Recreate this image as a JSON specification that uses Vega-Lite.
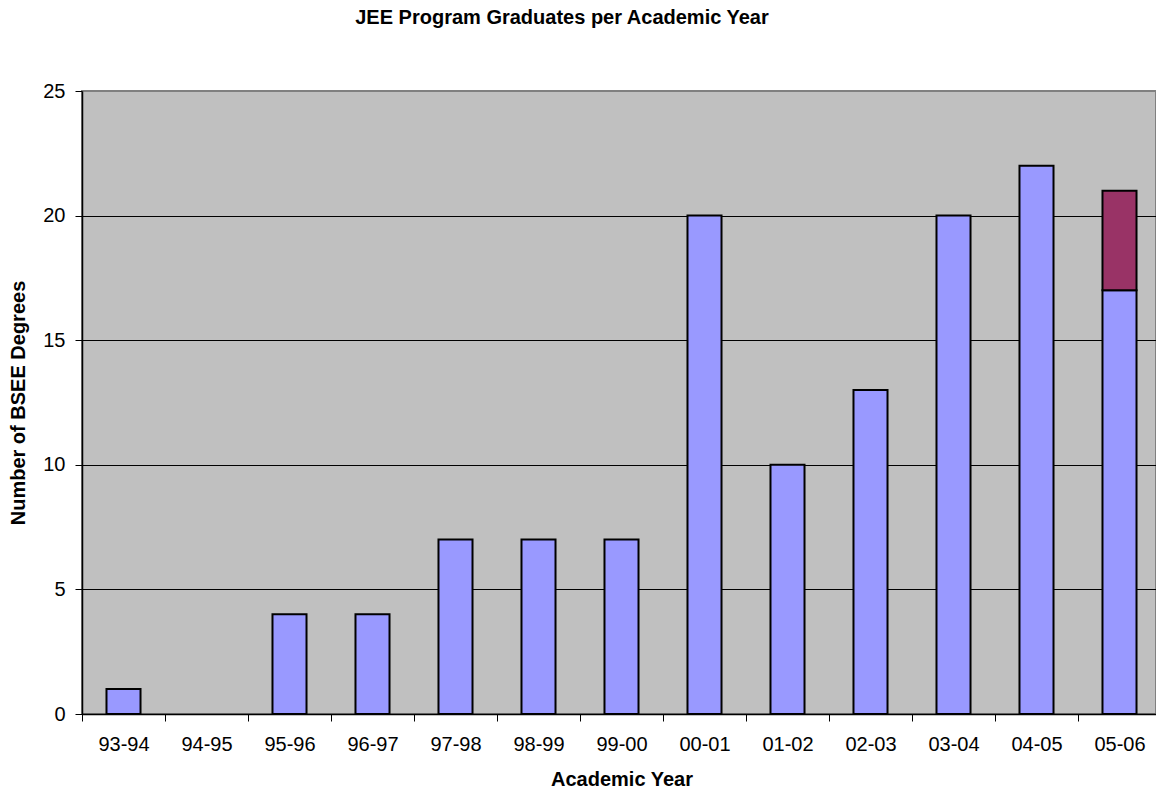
{
  "$schema": "https://vega.github.io/schema/vega-lite/v6.json",
  "autosize": "none",
  "padding": {"left": 82, "top": 91, "right": 0, "bottom": 81},
  "width": 1074,
  "height": 623,
  "background": "white",
  "config": {
    "font": "Liberation Sans",
    "view": {"fill": "#C0C0C0", "stroke": "#808080", "strokeWidth": 2},
    "axis": {"labelFont": "Liberation Sans", "titleFont": "Liberation Sans"}
  },
  "title": {
    "text": "JEE Program Graduates per Academic Year",
    "font": "Liberation Sans",
    "fontSize": 20,
    "fontWeight": "bold",
    "color": "black",
    "anchor": "middle",
    "frame": "group",
    "baseline": "alphabetic",
    "offset": 37,
    "dx": -57
  },
  "data": {
    "values": [
      {"year": "93-94", "series": "A", "degrees": 1},
      {"year": "94-95", "series": "A", "degrees": 0},
      {"year": "95-96", "series": "A", "degrees": 4},
      {"year": "96-97", "series": "A", "degrees": 4},
      {"year": "97-98", "series": "A", "degrees": 7},
      {"year": "98-99", "series": "A", "degrees": 7},
      {"year": "99-00", "series": "A", "degrees": 7},
      {"year": "00-01", "series": "A", "degrees": 20},
      {"year": "01-02", "series": "A", "degrees": 10},
      {"year": "02-03", "series": "A", "degrees": 13},
      {"year": "03-04", "series": "A", "degrees": 20},
      {"year": "04-05", "series": "A", "degrees": 22},
      {"year": "05-06", "series": "A", "degrees": 17},
      {"year": "05-06", "series": "B", "degrees": 4}
    ]
  },
  "mark": {"type": "bar", "stroke": "black", "width": {"band": 0.41}},
  "encoding": {
    "x": {
      "field": "year",
      "type": "nominal",
      "sort": null,
      "scale": {"range": [0, 1079], "paddingInner": 0, "paddingOuter": 0},
      "axis": {
        "title": "Academic Year",
        "titleFontSize": 20,
        "titleFontWeight": "bold",
        "titleColor": "black",
        "titlePadding": 15,
        "labelFontSize": 20,
        "labelColor": "black",
        "labelAngle": 0,
        "labelPadding": 13,
        "tickSize": 7,
        "tickColor": "black",
        "tickWidth": 1,
        "tickBand": "extent",
        "domainColor": "black",
        "domainWidth": 1.5,
        "grid": false
      }
    },
    "y": {
      "field": "degrees",
      "type": "quantitative",
      "stack": "zero",
      "scale": {"domain": [0, 25], "nice": false},
      "axis": {
        "title": "Number of BSEE Degrees",
        "titleFontSize": 20,
        "titleFontWeight": "bold",
        "titleColor": "black",
        "titlePadding": 14,
        "labelFontSize": 20,
        "labelColor": "black",
        "labelPadding": 10,
        "values": [0, 5, 10, 15, 20, 25],
        "tickSize": 7,
        "tickColor": "black",
        "tickWidth": 1,
        "domainColor": "black",
        "domainWidth": 1.5,
        "grid": true,
        "gridColor": {"condition": {"test": "datum.value === 25", "value": "#808080"}, "value": "black"},
        "gridWidth": 1
      }
    },
    "color": {
      "field": "series",
      "type": "nominal",
      "scale": {"domain": ["A", "B"], "range": ["#9999FF", "#993366"]},
      "legend": null
    },
    "strokeWidth": {"condition": {"test": "datum.degrees === 0", "value": 0}, "value": 2},
    "order": {"field": "series", "sort": "ascending"}
  }
}
